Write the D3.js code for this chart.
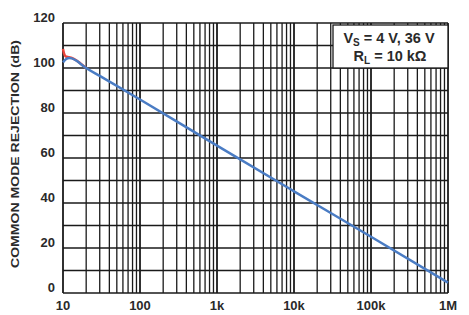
<!DOCTYPE html>
<html><head><meta charset="utf-8">
<script src="https://cdn.jsdelivr.net/npm/d3@7"></script>
<style>body{margin:0;background:#fff}svg{display:block}text{font-family:"Liberation Sans",Arial,sans-serif}</style>
</head><body><svg id="c" width="469" height="315"></svg>
<script>
const xTickValues=[10,100,1000,10000,100000,1000000];
const xTickLabels=["10","100","1k","10k","100k","1M"];
const yTickValues=[0,20,40,60,80,100,120];
const yTitle="COMMON MODE REJECTION (dB)";
const freqBlue=[10,11,12,13,15,17,20,30,100,1000,10000,100000,1000000];
const cmrBlue=[102.5,104,104.5,104.3,103.2,101.8,100,96.5,86,65.5,45.2,25,4.6];
const freqRed=[10,10.3,10.8,12,13,15,17,20];
const cmrRed=[108.5,106.5,105.2,104.8,104.5,103.3,101.9,100];
const note1=["V","S"," = 4 V, 36 V"];
const note2=["R","L"," = 10 kΩ"];

const svg=d3.select("#c");
const L=63,R=448,T=23,B=293;
const x=d3.scaleLog().domain([10,1e6]).range([L,R]);
const y=d3.scaleLinear().domain([0,120]).range([B,T]);
const g=svg.append("g");
const vLines=[];
for(let d=10;d<1e6;d*=10){for(let k=1;k<10;k++)vLines.push(d*k);}
vLines.push(1e6);
g.selectAll(".v").data(vLines).enter().append("line")
 .attr("x1",d=>x(d)).attr("x2",d=>x(d)).attr("y1",T).attr("y2",B)
 .attr("stroke","#1a1a1a").attr("stroke-width",d=>xTickValues.includes(d)?1.8:1.3);
const hLines=d3.range(0,121,10);
g.selectAll(".h").data(hLines).enter().append("line")
 .attr("x1",L).attr("x2",R).attr("y1",d=>y(d)).attr("y2",d=>y(d))
 .attr("stroke","#1a1a1a").attr("stroke-width",1.5);
svg.append("rect").attr("x",333).attr("y",25).attr("width",R-333).attr("height",43)
 .attr("fill","#fff").attr("stroke","#1a1a1a").attr("stroke-width",1.3);
function note(parts,cx,cy){
 const t=svg.append("text").attr("x",cx).attr("y",cy).attr("text-anchor","middle")
  .attr("font-size",14.5).attr("font-weight","bold").attr("fill","#2a2a2a");
 t.append("tspan").text(parts[0]);
 t.append("tspan").attr("font-size",10).attr("dy",3).text(parts[1]);
 t.append("tspan").attr("dy",-3).text(parts[2]);
}
note(note1,389,43);
note(note2,390,61);
const line=d3.line().x(d=>x(d[0])).y(d=>y(d[1])).curve(d3.curveMonotoneX);
svg.append("path").datum(freqRed.map((f,i)=>[f,cmrRed[i]])).attr("d",line)
 .attr("fill","none").attr("stroke","#e8453c").attr("stroke-width",2.5);
svg.append("path").datum(freqBlue.map((f,i)=>[f,cmrBlue[i]])).attr("d",line)
 .attr("fill","none").attr("stroke","#4a7cc4").attr("stroke-width",2.5);
svg.selectAll(".xl").data(xTickValues).enter().append("text")
 .attr("x",d=>x(d)).attr("y",310).attr("text-anchor","middle").attr("font-weight","bold")
 .attr("font-size",13).attr("fill","#2a2a2a").text((d,i)=>xTickLabels[i]);
svg.selectAll(".yl").data(yTickValues).enter().append("text")
 .attr("x",55).attr("y",d=>y(d)-1).attr("text-anchor","end").attr("font-weight","bold")
 .attr("font-size",13).attr("fill","#2a2a2a").text(d=>d);
svg.append("text").attr("transform","translate(19,154) rotate(-90)")
 .attr("text-anchor","middle").attr("font-size",11.5).attr("font-weight","bold")
 .attr("textLength",228).attr("lengthAdjust","spacingAndGlyphs")
 .attr("fill","#2a2a2a").text(yTitle);
</script></body></html>
